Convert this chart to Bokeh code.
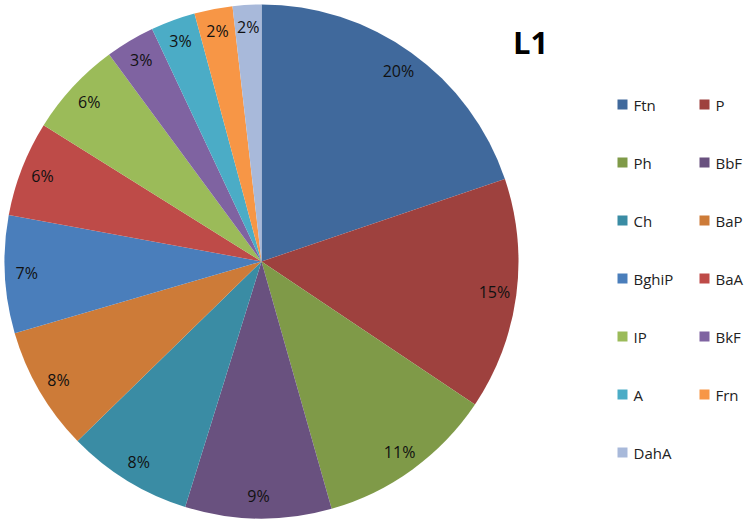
import math
from bokeh.plotting import figure
from bokeh.models import ColumnDataSource, Range1d
from bokeh.core.properties import value
from bokeh.embed import file_html
from bokeh.resources import INLINE

# ---- data ----
categories = ["Ftn", "P", "Ph", "BbF", "Ch", "BaP", "BghiP", "BaA", "IP", "BkF", "A", "Frn", "DahA"]
shares = [19.8, 14.6, 11.2, 9.2, 7.9, 7.8, 7.4, 6.0, 6.0, 3.1, 2.8, 2.4, 1.8]
colors = ["#40699C", "#9E413E", "#7F9A48", "#69517F", "#3A8CA4", "#CD7B38", "#4A7EBB",
          "#BE4B48", "#9BBB59", "#7F63A1", "#4BACC6", "#F79646", "#A8B9DA"]
title_text = "L1"

# ---- layout (pixels) ----
W, H = 751, 523
cx, cy = 261, 262
R = 257
R_LABEL = 235

total = sum(shares)
starts, ends, mids = [], [], []
acc = 0.0
for s in shares:
    a0 = acc / total
    acc += s
    a1 = acc / total
    # clockwise from 12 o'clock
    starts.append(math.pi / 2 - 2 * math.pi * a1)
    ends.append(math.pi / 2 - 2 * math.pi * a0)
    mids.append(math.pi / 2 - 2 * math.pi * (a0 + a1) / 2)

labels = [f"{round(s / total * 100):d}%" for s in shares]
lx = [cx + R_LABEL * math.cos(m) for m in mids]
ly = [cy + R_LABEL * math.sin(m) for m in mids]

src = ColumnDataSource(dict(cat=categories, val=shares, color=colors,
                            start=starts, end=ends, lx=lx, ly=ly, label=labels))

p = figure(width=W, height=H, output_backend="svg", toolbar_location=None,
           x_range=Range1d(0, W), y_range=Range1d(0, H), min_border=0)
p.axis.visible = False
p.grid.visible = False
p.outline_line_color = None
p.background_fill_color = "white"
p.border_fill_color = "white"

p.wedge(x=cx, y=cy, radius=R, radius_units="screen", start_angle="start", end_angle="end",
        fill_color="color", line_color=None, source=src)

p.text(x="lx", y="ly", text="label", source=src, text_align="center", text_baseline="middle",
       text_font=value("Open Sans"), text_font_size="16px", text_color="#111111")

# title
p.text(x=[530], y=[482], text=[title_text], text_align="center", text_baseline="middle",
       text_font=value("Open Sans"), text_font_size="31px", text_font_style="bold",
       text_color="#000000")

# legend (2 columns)
leg_x0, leg_dx = 622, 82
leg_y0, leg_dy = 419, 58
gx = [leg_x0 + leg_dx * (i % 2) for i in range(len(categories))]
gy = [leg_y0 - leg_dy * (i // 2) for i in range(len(categories))]
tx = [x + 11 for x in gx]
lsrc = ColumnDataSource(dict(gx=gx, gy=gy, tx=tx, cat=categories, color=colors))
p.rect(x="gx", y="gy", width=10, height=10, width_units="screen", height_units="screen",
       fill_color="color", line_color=None, source=lsrc)
p.text(x="tx", y="gy", text="cat", source=lsrc, text_align="left", text_baseline="middle",
       text_font=value("Open Sans"), text_font_size="15px", text_color="#222222")

open("out.html", "w").write(file_html(p, INLINE))
